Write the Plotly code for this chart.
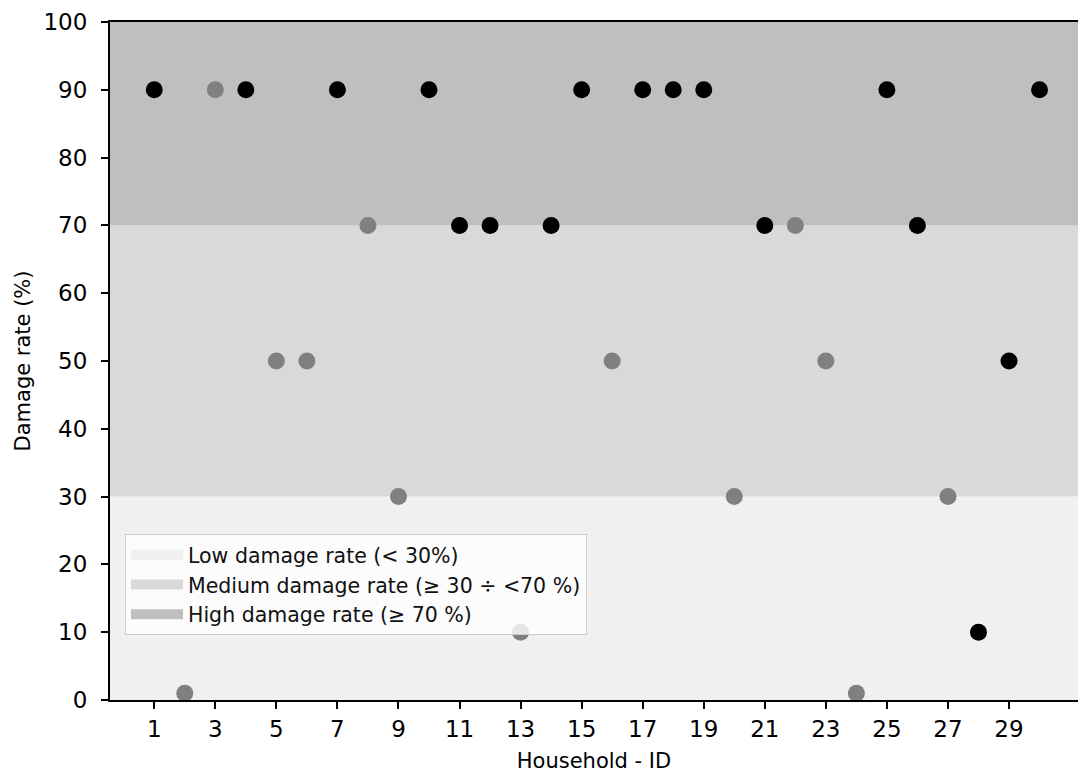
import plotly.graph_objects as go

# Household damage survey
household_id = list(range(1, 31))
damage_rate = [90, 1, 90, 90, 50, 50, 90, 70, 30, 90,
               70, 70, 10, 70, 90, 50, 90, 90, 90, 30,
               70, 70, 50, 1, 90, 70, 30, 10, 50, 90]
# 1 = dark marker, 0 = grey marker
dark_flag = [1, 0, 0, 1, 0, 0, 1, 0, 0, 1,
             1, 1, 0, 1, 1, 0, 1, 1, 1, 0,
             1, 0, 0, 0, 1, 1, 0, 1, 1, 1]

band_names = ["Low damage rate (< 30%)",
              "Medium damage rate (\u2265 30 \u00f7 <70 %)",
              "High damage rate (\u2265 70 %)"]
band_lower = [0, 30, 70]
band_upper = [30, 70, 100]
band_colors = ["#f0f0f0", "#d9d9d9", "#bfbfbf"]

x_ticks = list(range(1, 30, 2))
y_ticks = list(range(0, 101, 10))

FONT = "DejaVu Sans"

fig = go.Figure()

# background bands
for lo, hi, col in zip(band_lower, band_upper, band_colors):
    fig.add_shape(type="rect", xref="paper", x0=0, x1=1, yref="y", y0=lo, y1=hi,
                  fillcolor=col, line_width=0, layer="below")

# legend entries for the bands
for name, col in zip(band_names, band_colors):
    fig.add_trace(go.Scatter(x=[None], y=[None], mode="lines", name=name,
                             line=dict(color=col, width=14), showlegend=True,
                             hoverinfo="skip"))

point_colors = ["#000000" if f else "#808080" for f in dark_flag]
fig.add_trace(go.Scatter(x=household_id, y=damage_rate, mode="markers",
                         marker=dict(color=point_colors, size=17, line_width=0),
                         showlegend=False))

fig.update_layout(
    width=1078, height=773,
    margin=dict(l=110, r=0, t=22, b=73),
    paper_bgcolor="white", plot_bgcolor="white",
    font=dict(family=FONT, color="black"),
    legend=dict(x=0.0155, y=0.2448, xanchor="left", yanchor="top",
                bgcolor="rgba(255,255,255,0.8)", bordercolor="#cccccc", borderwidth=1,
                font=dict(size=20.5, family=FONT, color="#111111"),
                itemwidth=52, tracegroupgap=0),
)

fig.update_xaxes(range=[-0.45, 31.26], tickmode="array", tickvals=x_ticks,
                 ticktext=[str(v) for v in x_ticks],
                 showgrid=False, zeroline=False,
                 showline=True, linecolor="black", linewidth=2, mirror=True,
                 ticks="outside", ticklen=7, tickwidth=1.5, tickcolor="black",
                 tickfont=dict(size=23, family=FONT),
                 title=dict(text="Household - ID", font=dict(size=21, family=FONT), standoff=13))
fig.update_yaxes(range=[0, 100], tickmode="array", tickvals=y_ticks,
                 showgrid=False, zeroline=False,
                 showline=True, linecolor="black", linewidth=2,
                 ticks="outside", ticklen=7, tickwidth=1.5, tickcolor="black",
                 ticklabelstandoff=9,
                 tickfont=dict(size=23, family=FONT),
                 title=dict(text="Damage rate (%)", font=dict(size=21, family=FONT), standoff=7))

fig.write_html("out.html")
